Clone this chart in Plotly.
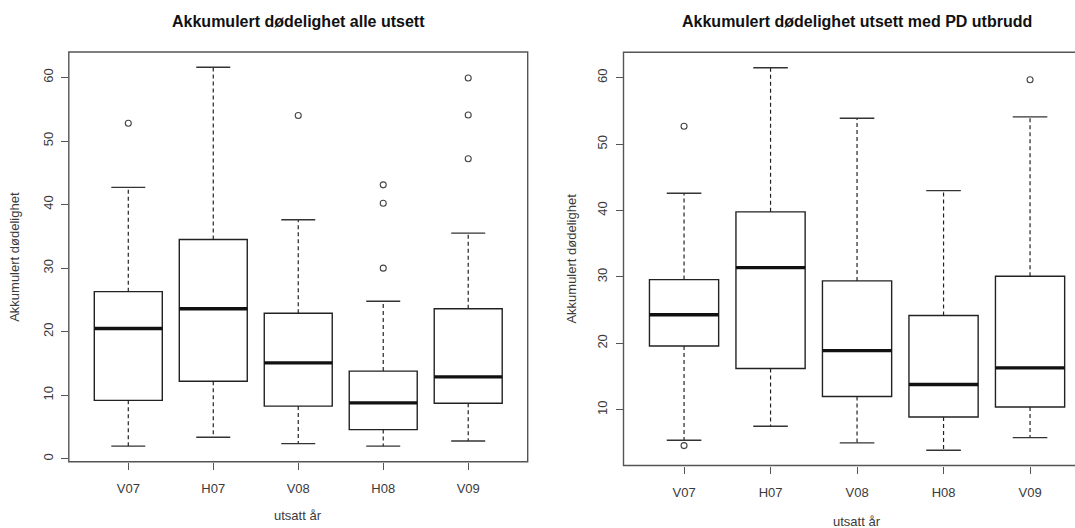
import plotly.graph_objects as go

categories = ["V07", "H07", "V08", "H08", "V09"]
positions = [1, 2, 3, 4, 5]

# Panel 1: Akkumulert dødelighet alle utsett
all_lower = [2.0, 3.4, 2.4, 2.0, 2.8]
all_q1 = [9.2, 12.2, 8.3, 4.6, 8.75]
all_median = [20.5, 23.6, 15.1, 8.8, 12.9]
all_q3 = [26.3, 34.5, 22.9, 13.8, 23.6]
all_upper = [42.7, 61.6, 37.6, 24.8, 35.5]
all_outliers = [[52.8], [], [54.0], [43.1, 40.2, 30.0], [59.9, 54.1, 47.2]]

# Panel 2: Akkumulert dødelighet utsett med PD utbrudd
pd_lower = [5.4, 7.5, 5.0, 3.9, 5.8]
pd_q1 = [19.6, 16.2, 12.0, 8.9, 10.4]
pd_median = [24.3, 31.4, 18.9, 13.8, 16.3]
pd_q3 = [29.6, 39.8, 29.4, 24.2, 30.1]
pd_upper = [42.6, 61.5, 53.9, 43.0, 54.1]
pd_outliers = [[52.7, 4.6], [], [], [], [59.7]]

titles = ["Akkumulert dødelighet alle utsett", "Akkumulert dødelighet utsett med PD utbrudd"]
x_title = "utsatt år"
y_title = "Akkumulert dødelighet"
y_ticks = [0, 10, 20, 30, 40, 50, 60]

BOX_W = 0.8
CAP_W = 0.4
BOX_COLOR = "#222222"
AXIS_COLOR = "#555555"
TEXT_COLOR = "#3a3a3a"
FONT = "Liberation Sans, Arial, sans-serif"

fig = go.Figure()


def add_panel(xa, ya, lower, q1, med, q3, upper, outl):
    fig.add_trace(go.Box(
        x=positions, q1=q1, median=med, q3=q3, lowerfence=q1, upperfence=q3,
        width=BOX_W, fillcolor="white", line=dict(color=BOX_COLOR, width=1.4),
        boxpoints=False, xaxis=xa, yaxis=ya, showlegend=False, hoverinfo="skip"))
    # whiskers (dashed)
    wx, wy = [], []
    for p, lo, a, b, hi in zip(positions, lower, q1, q3, upper):
        wx += [p, p, None, p, p, None]
        wy += [b, hi, None, a, lo, None]
    fig.add_trace(go.Scatter(x=wx, y=wy, mode="lines", xaxis=xa, yaxis=ya,
                             line=dict(color=BOX_COLOR, width=1.2, dash="4px,3px"),
                             showlegend=False, hoverinfo="skip"))
    # caps
    cx, cy = [], []
    for p, lo, hi in zip(positions, lower, upper):
        cx += [p - CAP_W / 2, p + CAP_W / 2, None, p - CAP_W / 2, p + CAP_W / 2, None]
        cy += [hi, hi, None, lo, lo, None]
    fig.add_trace(go.Scatter(x=cx, y=cy, mode="lines", xaxis=xa, yaxis=ya,
                             line=dict(color="#333333", width=1.4),
                             showlegend=False, hoverinfo="skip"))
    # medians (thick)
    mx, my = [], []
    for p, m in zip(positions, med):
        mx += [p - BOX_W / 2, p + BOX_W / 2, None]
        my += [m, m, None]
    fig.add_trace(go.Scatter(x=mx, y=my, mode="lines", xaxis=xa, yaxis=ya,
                             line=dict(color="#111111", width=3.4),
                             showlegend=False, hoverinfo="skip"))
    # outliers
    ox, oy = [], []
    for p, vals in zip(positions, outl):
        for v in vals:
            ox.append(p)
            oy.append(v)
    fig.add_trace(go.Scatter(x=ox, y=oy, mode="markers", xaxis=xa, yaxis=ya,
                             marker=dict(symbol="circle-open", size=6,
                                         color="#444444", line=dict(width=1.1)),
                             showlegend=False, hoverinfo="skip"))


add_panel("x", "y", all_lower, all_q1, all_median, all_q3, all_upper, all_outliers)
add_panel("x2", "y2", pd_lower, pd_q1, pd_median, pd_q3, pd_upper, pd_outliers)

W, H = 1075, 528
L_left, L_right, L_top, L_bot = 68.8, 527.7, 52.0, 461.7
R_left, R_top, R_bot = 623.5, 52.3, 465.5
R_step = 86.5

L_dom_x = [L_left / W, L_right / W]
L_dom_y = [(H - L_bot) / H, (H - L_top) / H]
R_dom_x = [R_left / W, 1.0]
R_dom_y = [(H - R_bot) / H, (H - R_top) / H]
L_center = (L_left + L_right) / 2
R_center = R_left + 5.4 * R_step / 2

xaxis_common = dict(tickmode="array", tickvals=positions, ticktext=categories,
                    ticks="outside", ticklen=7, tickcolor=AXIS_COLOR, showgrid=False,
                    zeroline=False, showline=False, ticklabelstandoff=8,
                    tickfont=dict(family=FONT, size=13, color=TEXT_COLOR))
yaxis_common = dict(tickmode="array", tickvals=y_ticks, ticks="outside", ticklen=7,
                    tickcolor=AXIS_COLOR, showgrid=False, zeroline=False, showline=False,
                    tickangle=-90, ticklabelstandoff=3,
                    tickfont=dict(family=FONT, size=13, color=TEXT_COLOR))

fig.update_layout(
    width=W, height=H, margin=dict(l=0, r=0, t=0, b=0),
    paper_bgcolor="white", plot_bgcolor="white",
    xaxis=dict(domain=L_dom_x, range=[0.3, 5.7], anchor="y", **xaxis_common),
    yaxis=dict(domain=L_dom_y, range=[-0.45, 64.0], anchor="x", **yaxis_common),
    xaxis2=dict(domain=R_dom_x, range=[0.3, 0.3 + (W - R_left) / R_step], anchor="y2", **xaxis_common),
    yaxis2=dict(domain=R_dom_y, range=[1.6, 63.83], anchor="x2", **yaxis_common),
    shapes=[
        dict(type="rect", xref="paper", yref="paper", x0=L_dom_x[0], x1=L_dom_x[1],
             y0=L_dom_y[0], y1=L_dom_y[1], line=dict(color=AXIS_COLOR, width=1.4), layer="above"),
        dict(type="rect", xref="paper", yref="paper", x0=R_dom_x[0], x1=1.02,
             y0=R_dom_y[0], y1=R_dom_y[1], line=dict(color=AXIS_COLOR, width=1.4), layer="above"),
    ],
    annotations=[
        dict(text="<b>" + titles[0] + "</b>", x=L_center / W, y=1 - 21.5 / H, xref="paper", yref="paper",
             showarrow=False, xanchor="center", yanchor="middle",
             font=dict(family=FONT, size=16, color="#111111")),
        dict(text="<b>" + titles[1] + "</b>", x=R_center / W, y=1 - 21.5 / H, xref="paper", yref="paper",
             showarrow=False, xanchor="center", yanchor="middle",
             font=dict(family=FONT, size=16, color="#111111")),
        dict(text=x_title, x=L_center / W, y=1 - 515 / H, xref="paper", yref="paper",
             showarrow=False, xanchor="center", yanchor="middle",
             font=dict(family=FONT, size=13, color=TEXT_COLOR)),
        dict(text=x_title, x=R_center / W, y=1 - 521 / H, xref="paper", yref="paper",
             showarrow=False, xanchor="center", yanchor="middle",
             font=dict(family=FONT, size=13, color=TEXT_COLOR)),
        dict(text=y_title, x=15 / W, y=1 - (L_top + L_bot) / 2 / H, xref="paper", yref="paper",
             showarrow=False, xanchor="center", yanchor="middle", textangle=-90,
             font=dict(family=FONT, size=13, color=TEXT_COLOR)),
        dict(text=y_title, x=571.7 / W, y=1 - (R_top + R_bot) / 2 / H, xref="paper", yref="paper",
             showarrow=False, xanchor="center", yanchor="middle", textangle=-90,
             font=dict(family=FONT, size=13, color=TEXT_COLOR)),
    ],
)

fig.write_html("out.html")
